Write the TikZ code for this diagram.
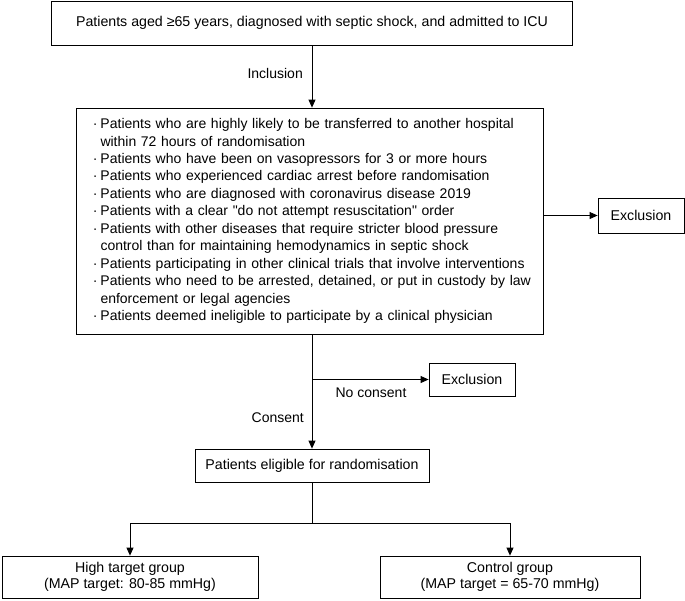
\documentclass[tikz,border=0pt]{standalone}
\usepackage{fontspec}
\setmainfont{Liberation Sans}[Ligatures=TeXOff]
\usetikzlibrary{arrows.meta}
\newcommand{\itm}{\makebox[15pt][r]{·\hspace{3pt}}}
\newcommand{\cnt}{\hspace*{15pt}}

\begin{document}
\begin{tikzpicture}[x=1pt,y=1pt,yscale=-1,
  box/.style={draw, line width=0.8pt, inner sep=0pt, align=center, font=\fontsize{14.2}{16}\selectfont},
  arr/.style={-{Triangle[length=8pt,width=7pt]}, line width=0.8pt},
  lbl/.style={inner sep=0pt, font=\fontsize{14}{17}\selectfont}]
\useasboundingbox (0,0) rectangle (685,600);

% Boxes
\node[box, minimum width=521pt, minimum height=44pt] (patients) at (312,23) {Patients aged ≥65 years, diagnosed with septic shock, and admitted to ICU};

\node[box, minimum width=467pt, minimum height=226pt, text width=448pt, align=left, font=\fontsize{14}{17.45}\selectfont] (criteria) at (309.5,221) {%
\itm Patients who are highly likely to be transferred to another hospital\\
\cnt within 72 hours of randomisation\\
\itm Patients who have been on vasopressors for 3 or more hours\\
\itm Patients who experienced cardiac arrest before randomisation\\
\itm Patients who are diagnosed with coronavirus disease 2019\\
\itm Patients with a clear "do not attempt resuscitation" order\\
\itm Patients with other diseases that require stricter blood pressure\\
\cnt control than for maintaining hemodynamics in septic shock\\
\itm Patients participating in other clinical trials that involve interventions\\
\itm Patients who need to be arrested, detained, or put in custody by law\\
\cnt enforcement or legal agencies\\
\itm Patients deemed ineligible to participate by a clinical physician};

\node[box, minimum width=86pt, minimum height=35pt] (excl1) at (641,215.5) {Exclusion};
\node[box, minimum width=86pt, minimum height=33pt] (excl2) at (472,379.5) {Exclusion};
\node[box, minimum width=234pt, minimum height=33pt] (eligible) at (312,465.5) {Patients eligible for randomisation};
\node[box, minimum width=256pt, minimum height=42pt] (high) at (130,577) {High target group\\(MAP target: 80-85 mmHg)};
\node[box, minimum width=260pt, minimum height=42pt] (control) at (510,577) {Control group\\(MAP target = 65-70 mmHg)};

% Labels
\node[lbl, anchor=east] (inclusion) at (303,73) {Inclusion};
\node[lbl] (noconsent) at (371,393) {No consent};
\node[lbl, anchor=east] (consent) at (304,418) {Consent};

% Connectors
\coordinate (split) at (patients |- excl2);
\coordinate (fork) at (312,523);
\draw[arr] (patients) -- (patients |- criteria.north);
\draw[arr] (criteria.east |- excl1.west) -- (excl1.west);
\draw[arr] (criteria.south -| patients) -- (eligible.north);
\draw[arr] (split) -- (excl2.west);
\draw (eligible.south) -- (fork);
\draw[arr] (fork) -| (high.north);
\draw[arr] (fork) -| (control.north);

\end{tikzpicture}
\end{document}
